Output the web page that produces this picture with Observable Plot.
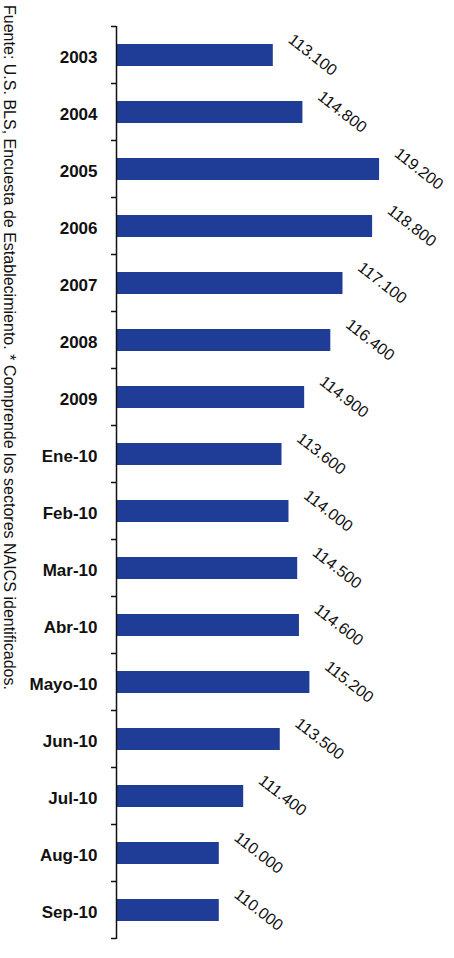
<!DOCTYPE html>
<html>
<head>
<meta charset="utf-8">
<script src="https://cdn.jsdelivr.net/npm/d3@7"></script>
<script src="https://cdn.jsdelivr.net/npm/@observablehq/plot@0.6"></script>
<style>
  html, body { margin: 0; padding: 0; background: #fff; }
  #wrap { position: relative; width: 454px; height: 958px; }
  #chart { position: absolute; left: 0; top: 0; }
  #caption { position: absolute; left: 0; top: 0; }
</style>
</head>
<body>
<div id="wrap">
  <div id="chart"></div>
  <svg id="caption" width="26" height="700"></svg>
</div>
<script>
const categories = ["2003","2004","2005","2006","2007","2008","2009","Ene-10","Feb-10","Mar-10","Abr-10","Mayo-10","Jun-10","Jul-10","Aug-10","Sep-10"];
const values = [113.1, 114.8, 119.2, 118.8, 117.1, 116.4, 114.9, 113.6, 114.0, 114.5, 114.6, 115.2, 113.5, 111.4, 110.0, 110.0];
const captionText = "Fuente: U.S. BLS, Encuesta de Establecimiento.  * Comprende los sectores NAICS identificados.";

const data = categories.map((c, i) => ({category: c, value: values[i]}));
const xDomain = [104.1, 123.5];
const font = "'Liberation Sans', Arial, Helvetica, sans-serif";

const boundaryTicks = (index, scales, channels, dims) => {
  const y = scales.y;
  const step = y(categories[1]) - y(categories[0]);
  const gap = (step - y.bandwidth()) / 2;
  const x0 = scales.x(xDomain[0]);
  const g = d3.create("svg:g").attr("stroke", "#111").attr("stroke-width", 1.5);
  const ys = categories.map(c => y(c) - gap);
  ys.push(y(categories[categories.length - 1]) + y.bandwidth() + gap);
  for (const yy of ys) {
    g.append("line").attr("x1", x0 - 5).attr("x2", x0).attr("y1", yy).attr("y2", yy);
  }
  return g.node();
};

const chart = Plot.plot({
  width: 454,
  height: 958,
  marginLeft: 116,
  marginRight: 0,
  marginTop: 26,
  marginBottom: 19,
  style: {fontFamily: font, background: "#fff"},
  x: {domain: xDomain, clamp: true, axis: null},
  y: {domain: categories, paddingInner: 0.62, paddingOuter: 0.31, label: null},
  marks: [
    Plot.barX(data, {x: "value", y: "category", fill: "#1f3d96"}),
    Plot.ruleX([xDomain[0]], {stroke: "#111", strokeWidth: 1.5}),
    boundaryTicks,
    Plot.axisY({tickSize: 0, tickPadding: 19, fontSize: 17, fontWeight: "bold", fill: "#111", dy: 2}),
    Plot.text(data, {
      x: "value", y: "category",
      text: d => d3.format(".3f")(d.value),
      rotate: 38, textAnchor: "start",
      dx: 17, dy: -18,
      fontSize: 16, fill: "#111"
    })
  ]
});
document.getElementById("chart").appendChild(chart);

const cap = d3.select("#caption");
cap.append("text")
  .attr("transform", "translate(4,5) rotate(90)")
  .attr("font-family", font)
  .attr("font-size", 16)
  .attr("fill", "#111")
  .attr("textLength", 685)
  .attr("lengthAdjust", "spacingAndGlyphs")
  .text(captionText);
</script>
</body>
</html>
